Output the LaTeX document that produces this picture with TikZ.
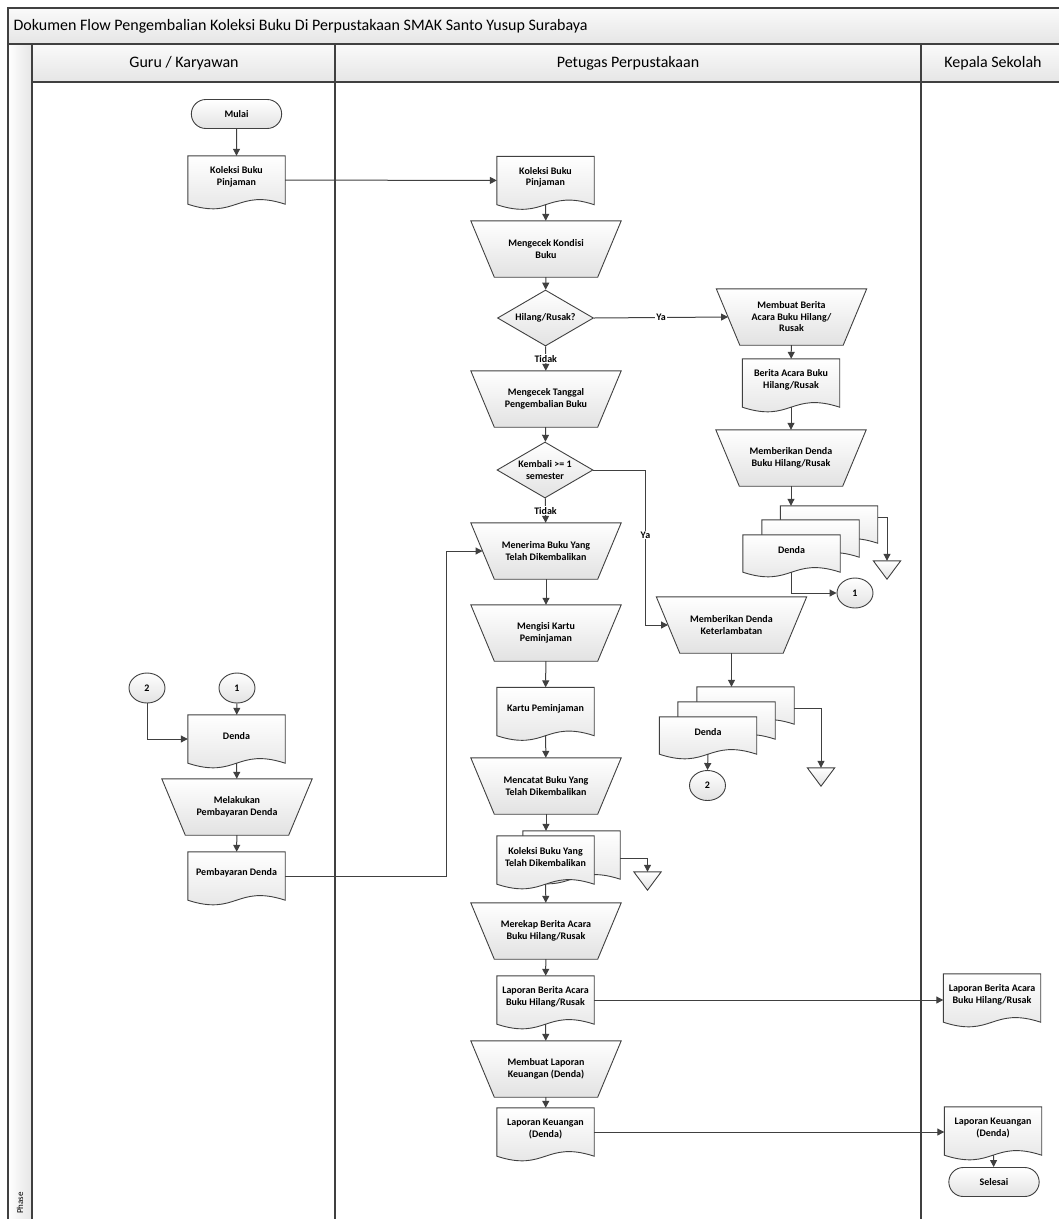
\documentclass[tikz,border=0pt]{standalone}
\usepackage{fontspec}
\setmainfont{Carlito}
\usetikzlibrary{shapes.geometric, shapes.misc, arrows.meta, calc}

\definecolor{linec}{HTML}{404040}
\definecolor{shadec}{HTML}{E2E2E2}

% document symbol: empty box for the anchors, wavy outline, then the text
\newcommand{\docnode}[4][48pt]{%
  \node[docbox=#1] (#2) at (#3) {};
  \draw[shp] (#2.north west) -- (#2.north east) -- (#2.south east)
    .. controls ($(#2.south)+(0,-16)$) and ($(#2.south)+(0,16)$) .. (#2.south west) -- cycle;
  \node[txt] at ($(#3)+(0,-3)$) {#4};}
% manual operation: wide top, narrow bottom
\newcommand{\procnode}[3]{%
  \node[procbox] (#1) at (#2) {};
  \draw[shp] (#1.north west) -- (#1.north east) -- ($(#1.south east)+(-23.5,0)$)
    -- ($(#1.south west)+(23.5,0)$) -- cycle;
  \node[txt] at (#2) {#3};}

\begin{document}
\begin{tikzpicture}[x=1pt,y=-1pt,
  shp/.style={draw=linec,line width=0.9pt,top color=white,bottom color=shadec},
  txt/.style={font=\fontsize{10}{11.5}\selectfont\bfseries,align=center},
  docbox/.style={minimum width=97pt,minimum height=#1,inner sep=0pt},
  procbox/.style={minimum width=150pt,minimum height=56pt,inner sep=0pt},
  term/.style={shp,txt,rounded rectangle,minimum width=97pt,minimum height=29pt},
  dec/.style={shp,txt,diamond,aspect=1.7,minimum width=96pt,minimum height=56pt,inner sep=0pt},
  con/.style={shp,txt,ellipse,minimum width=36pt,minimum height=30pt,inner sep=0pt},
  tri/.style={minimum width=27pt,minimum height=18pt,inner sep=0pt},
  arr/.style={draw=linec,line width=1pt,-{Triangle[length=7pt,width=7pt]}},
  lbl/.style={txt,fill=white,inner sep=1pt},
  lane/.style={draw=linec,line width=1.2pt},
  hdr/.style={lane,top color=black!2,bottom color=black!10},
  head/.style={font=\fontsize{16}{18}\selectfont}]
\useasboundingbox (0,0) rectangle (1059,1219);

% pool and lanes
\draw[hdr] (8,8) rectangle (1066,44);
\node[head,anchor=west] (judul) at (10,26) {Dokumen Flow Pengembalian Koleksi Buku Di Perpustakaan SMAK Santo Yusup Surabaya};
\draw[lane,left color=white,right color=black!10] (8,44) rectangle (32,1230);
\node[font=\fontsize{9}{10}\selectfont,rotate=90] (fase) at (20,1203) {Phase};
\draw[hdr] (32,44) rectangle (1066,82);
\draw[lane] (32,44) rectangle (335,1230);
\draw[lane] (335,44) rectangle (921,1230);
\draw[lane] (921,44) rectangle (1066,1230);
\node[head] (hGuru) at (184,63) {Guru / Karyawan};
\node[head] (hPetugas) at (628,63) {Petugas Perpustakaan};
\node[head] (hKepala) at (993,63) {Kepala Sekolah};

% Guru / Karyawan
\node[term] (mulai) at (236.5,114) {Mulai};
\docnode{kolG}{236.5,180}{Koleksi Buku\\Pinjaman}
\node[con] (k2b) at (147,688) {2};
\node[con] (k1b) at (237,688) {1};
\docnode{dendaG}{236.5,739}{Denda}
\procnode{bayar}{237,807}{Melakukan\\Pembayaran Denda}
\docnode{bayarD}{236.5,876}{Pembayaran Denda}

% Petugas Perpustakaan
\docnode{kolP}{545.5,180.5}{Koleksi Buku\\Pinjaman}
\procnode{cekK}{546,249}{Mengecek Kondisi\\Buku}
\node[dec] (hil) at (545.5,318) {Hilang/Rusak?};
\procnode{cekT}{546,399}{Mengecek Tanggal\\Pengembalian Buku}
\node[dec] (kem) at (545,470) {Kembali >= 1\\semester};
\procnode{terima}{546,551}{Menerima Buku Yang\\Telah Dikembalikan}
\procnode{isi}{546,633}{Mengisi Kartu\\Peminjaman}
\docnode{kartu}{545.5,711.5}{Kartu Peminjaman}
\procnode{catat}{546,786}{Mencatat Buku Yang\\Telah Dikembalikan}
\docnode{kolTDb}{571.5,855}{}
\docnode{kolTD}{545.5,860}{Koleksi Buku Yang\\Telah Dikembalikan}
\node[tri] (arsip3) at (647.5,881) {};
\procnode{rekap}{546,931}{Merekap Berita Acara\\Buku Hilang/Rusak}
\docnode{lapBA}{545.5,1000}{Laporan Berita Acara\\Buku Hilang/Rusak}
\procnode{buatLK}{546,1069}{Membuat Laporan\\Keuangan (Denda)}
\docnode{lapK}{545.5,1132}{Laporan Keuangan\\(Denda)}

\procnode{buatBA}{791.5,317}{Membuat Berita\\Acara Buku Hilang/\\Rusak}
\docnode{berita}{791,383}{Berita Acara Buku\\Hilang/Rusak}
\procnode{dendaBR}{791,458}{Memberikan Denda\\Buku Hilang/Rusak}
\docnode[37pt]{dendaAc}{829,524.5}{}
\docnode[37pt]{dendaAb}{810.5,538.5}{}
\docnode[37pt]{dendaA}{791.5,553.5}{Denda}
\node[tri] (arsip1) at (887,570) {};
\node[con] (k1a) at (855,593) {1};
\procnode{dendaTL}{731.5,625}{Memberikan Denda\\Keterlambatan}
\docnode[37pt]{dendaBc}{745.5,705.5}{}
\docnode[37pt]{dendaBb}{726.5,720.5}{}
\docnode[37pt]{dendaB}{708,735.5}{Denda}
\node[tri] (arsip2) at (821,777) {};
\node[con] (k2a) at (707.5,785.5) {2};

% Kepala Sekolah
\docnode{lapBAk}{992,998}{Laporan Berita Acara\\Buku Hilang/Rusak}
\docnode{lapKk}{993,1131}{Laporan Keuangan\\(Denda)}
\node[term] (selesai) at (994,1182) {Selesai};

\foreach \t in {arsip1,arsip2,arsip3}
  \draw[shp] (\t.north west) -- (\t.north east) -- (\t.south) -- cycle;

% connectors
\draw[arr] (mulai) -- (kolG);
\draw[arr] (kolG) -- (kolP);
\draw[arr] (kolP) -- (cekK);
\draw[arr] (cekK) -- (hil);
\draw[arr] (hil) -- node[lbl]{Tidak} (cekT);
\draw[arr] (hil.east) -- node[lbl]{Ya} ([xshift=11.75pt]buatBA.west);
\draw[arr] (buatBA) -- (berita);
\draw[arr] (berita) -- (dendaBR);
\draw[arr] (dendaBR.south) -- (dendaBR.south |- dendaAc.north);
\draw[arr] ($(dendaAc.north east)+(0,12)$) -| (arsip1.north);
\draw[arr] (dendaA.south) |- (k1a.west);
\draw[arr] (cekT) -- (kem);
\draw[arr] (kem) -- node[lbl]{Tidak} (terima);
\draw[arr] (kem.east) -- ++(52,0) |- node[lbl,pos=0.21]{Ya} ([xshift=11.75pt]dendaTL.west);
\draw[arr] (dendaTL.south) -- (dendaTL.south |- dendaBc.north);
\draw[arr] ($(dendaBc.north east)+(0,22)$) -| (arsip2.north);
\draw[arr] (dendaB.south) -- (k2a.north);
\draw[arr] (terima) -- (isi);
\draw[arr] (isi) -- (kartu);
\draw[arr] (kartu) -- (catat);
\draw[arr] (catat.south) -- (catat.south |- kolTDb.north);
\draw[arr] ($(kolTDb.north east)+(0,28)$) -| (arsip3.north);
\draw[arr] (kolTD) -- (rekap);
\draw[arr] (rekap) -- (lapBA);
\draw[arr] (lapBA) -- (buatLK);
\draw[arr] (buatLK) -- (lapK);
\draw[arr] (lapBA.east) -- (lapBA.east -| lapBAk.west);
\draw[arr] (lapK.east) -- (lapK.east -| lapKk.west);
\draw[arr] (lapKk) -- (selesai);
\draw[arr] (k1b) -- (dendaG);
\draw[arr] (k2b.south) |- (dendaG.west);
\draw[arr] (dendaG) -- (bayar);
\draw[arr] (bayar) -- (bayarD);
\draw[arr] (bayarD.east) -- ++(161,0) |- ([xshift=11.75pt]terima.west);
\end{tikzpicture}
\end{document}
